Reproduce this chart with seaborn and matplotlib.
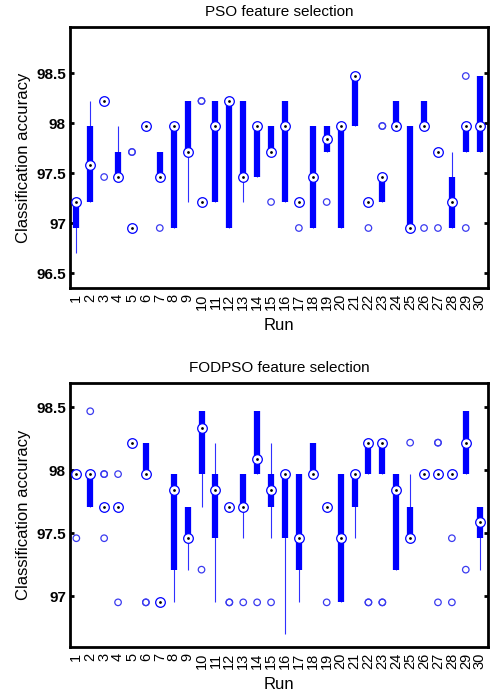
import matplotlib
matplotlib.use("Agg")
import matplotlib.pyplot as plt
import numpy as np
import pandas as pd
import seaborn as sns

# accuracy levels seen in the figure
L0, L1, L2, L3, L4, L5, L6, L7 = 96.70, 96.95, 97.21, 97.46, 97.71, 97.97, 98.22, 98.47

runs = list(range(1, 31))

# PSO feature selection
pso_q1 = [L1, L2, L6, L3, L1, L5, L3, L1, L4, L2, L2, L1, L3, L3, L4,
          L2, L2, L1, L4, L1, L5, L2, L2, L5, L1, L5, L4, L1, L4, L4]
pso_q3 = [L2, L5, L6, L4, L1, L5, L4, L5, L6, L2, L6, L6, L6, L5, L5,
          L6, L2, L5, L5, L5, L7, L2, L3, L6, L5, L6, L4, L3, L5, L7]
pso_med = [L2, 97.585, L6, L3, L1, L5, L3, L5, L4, L2, L5, L6, L3, L5, L4,
           L5, L2, L3, 97.84, L5, L7, L2, L3, L5, L1, L5, L4, L2, L5, L5]
pso_wlo = [L0, L2, L6, L3, L1, L5, L3, L1, L2, L2, L2, L1, L2, L3, L4,
           L2, L2, L1, L4, L1, L5, L2, L2, L5, L1, L5, L4, L1, L4, L4]
pso_whi = [L2, L6, L6, L5, L1, L5, L4, L5, L6, L2, L6, L6, L6, L5, L5,
           L6, L2, L5, L5, L5, L7, L2, L3, L6, L5, L6, L4, L4, L5, L7]
pso_out = [[], [], [L3], [], [L4, L4, L1], [], [L1], [], [], [L6, L6], [], [], [], [], [L2],
           [], [L1], [], [L2], [], [], [L1], [L5, L5], [], [], [L1], [L4, L1], [], [L7, L1], []]

# FODPSO feature selection
fod_q1 = [L5, L4, L4, L4, L6, L5, L1, L2, L3, L5, L3, L4, L4, L5, L4,
          L3, L2, L5, L4, L1, L4, L5, L5, L2, L3, L5, L5, L5, L5, L3]
fod_q3 = [L5, L5, L4, L4, L6, L6, L1, L5, L4, L7, L5, L4, L5, L7, L5,
          L5, L5, L6, L4, L5, L5, L6, L6, L5, L4, L5, L5, L5, L7, L4]
fod_med = [L5, L5, L4, L4, L6, L5, L1, 97.84, L3, 98.34, 97.84, L4, L4, 98.09, 97.84,
           L5, L3, L5, L4, L3, L5, L6, L6, 97.84, L3, L5, L5, L5, L6, 97.59]
fod_wlo = [L5, L4, L4, L4, L6, L5, L1, L1, L2, L4, L1, L4, L3, L5, L3,
           L0, L1, L5, L4, L1, L3, L5, L5, L2, L3, L5, L5, L5, L5, L2]
fod_whi = [L5, L5, L4, L4, L6, L6, L1, L5, L4, L7, L6, L4, L5, L7, L6,
           L5, L5, L6, L4, L5, L5, L6, L6, L5, L5, L5, L5, L5, L7, L4]
fod_out = [[L3], [L7], [L5, L5, L3], [L5, L1], [], [L1, L1], [L1, L1, L1], [], [], [L2], [], [L1, L1], [L1], [L1], [L1],
           [], [], [], [L1], [], [], [L1, L1], [L1, L1], [], [L6], [], [L6, L6, L1], [L3, L1], [L2], []]

BLUE = "#0000ff"


def draw_panel(ax, title, q1, q3, med, wlo, whi, out, ylim, yticks):
    ax.vlines(runs, wlo, whi, color="#3030ff", lw=0.8, zorder=1)
    ax.vlines(runs, q1, q3, color=BLUE, lw=4.5, zorder=2)
    ox = [r for r, vals in zip(runs, out) for _ in vals]
    oy = [v for vals in out for v in vals]
    sns.scatterplot(x=ox, y=oy, ax=ax, marker="o", s=22, facecolor="none",
                    edgecolor="#3a3af0", linewidth=0.9, zorder=3)
    med_df = pd.DataFrame({"run": runs, "acc": med})
    sns.scatterplot(data=med_df, x="run", y="acc", ax=ax, marker="o", s=48,
                    color="white", edgecolor=BLUE, linewidth=0.9, zorder=4)
    sns.scatterplot(data=med_df, x="run", y="acc", ax=ax, marker="o", s=4,
                    color="black", edgecolor="black", linewidth=0, zorder=5)
    ax.set_xlim(0.55, 30.6)
    ax.set_ylim(*ylim)
    ax.set_yticks(yticks)
    ax.set_yticklabels([f"{t:g}" for t in yticks], fontweight="bold", fontsize=11)
    ax.set_xticks(runs)
    ax.set_xticklabels([str(r) for r in runs], rotation=90, fontsize=10.5)
    ax.tick_params(axis="x", length=0, pad=4, colors="black")
    ax.tick_params(axis="y", direction="in", length=3, width=2, left=True, right=True,
                   pad=3, colors="black")
    for s in ax.spines.values():
        s.set_linewidth(2)
        s.set_color("black")
    ax.set_title(title, fontsize=11, pad=8, color="black")
    ax.set_xlabel("Run", fontsize=12, labelpad=6, color="black")
    ax.set_ylabel("Classification accuracy", fontsize=12, labelpad=4, color="black")


sns.set_style("white")
plt.rcParams["font.family"] = ["Liberation Sans", "DejaVu Sans"]

fig = plt.figure(figsize=(4.9, 6.93), dpi=100)
ax1 = fig.add_axes([0.143, 0.5844, 0.853, 0.3766])
ax2 = fig.add_axes([0.143, 0.0664, 0.853, 0.381])

draw_panel(ax1, "PSO feature selection", pso_q1, pso_q3, pso_med, pso_wlo, pso_whi, pso_out,
           (96.35, 98.96), [96.5, 97, 97.5, 98, 98.5])
draw_panel(ax2, "FODPSO feature selection", fod_q1, fod_q3, fod_med, fod_wlo, fod_whi, fod_out,
           (96.595, 98.695), [97, 97.5, 98, 98.5])

fig.savefig("out.png", dpi=100)
